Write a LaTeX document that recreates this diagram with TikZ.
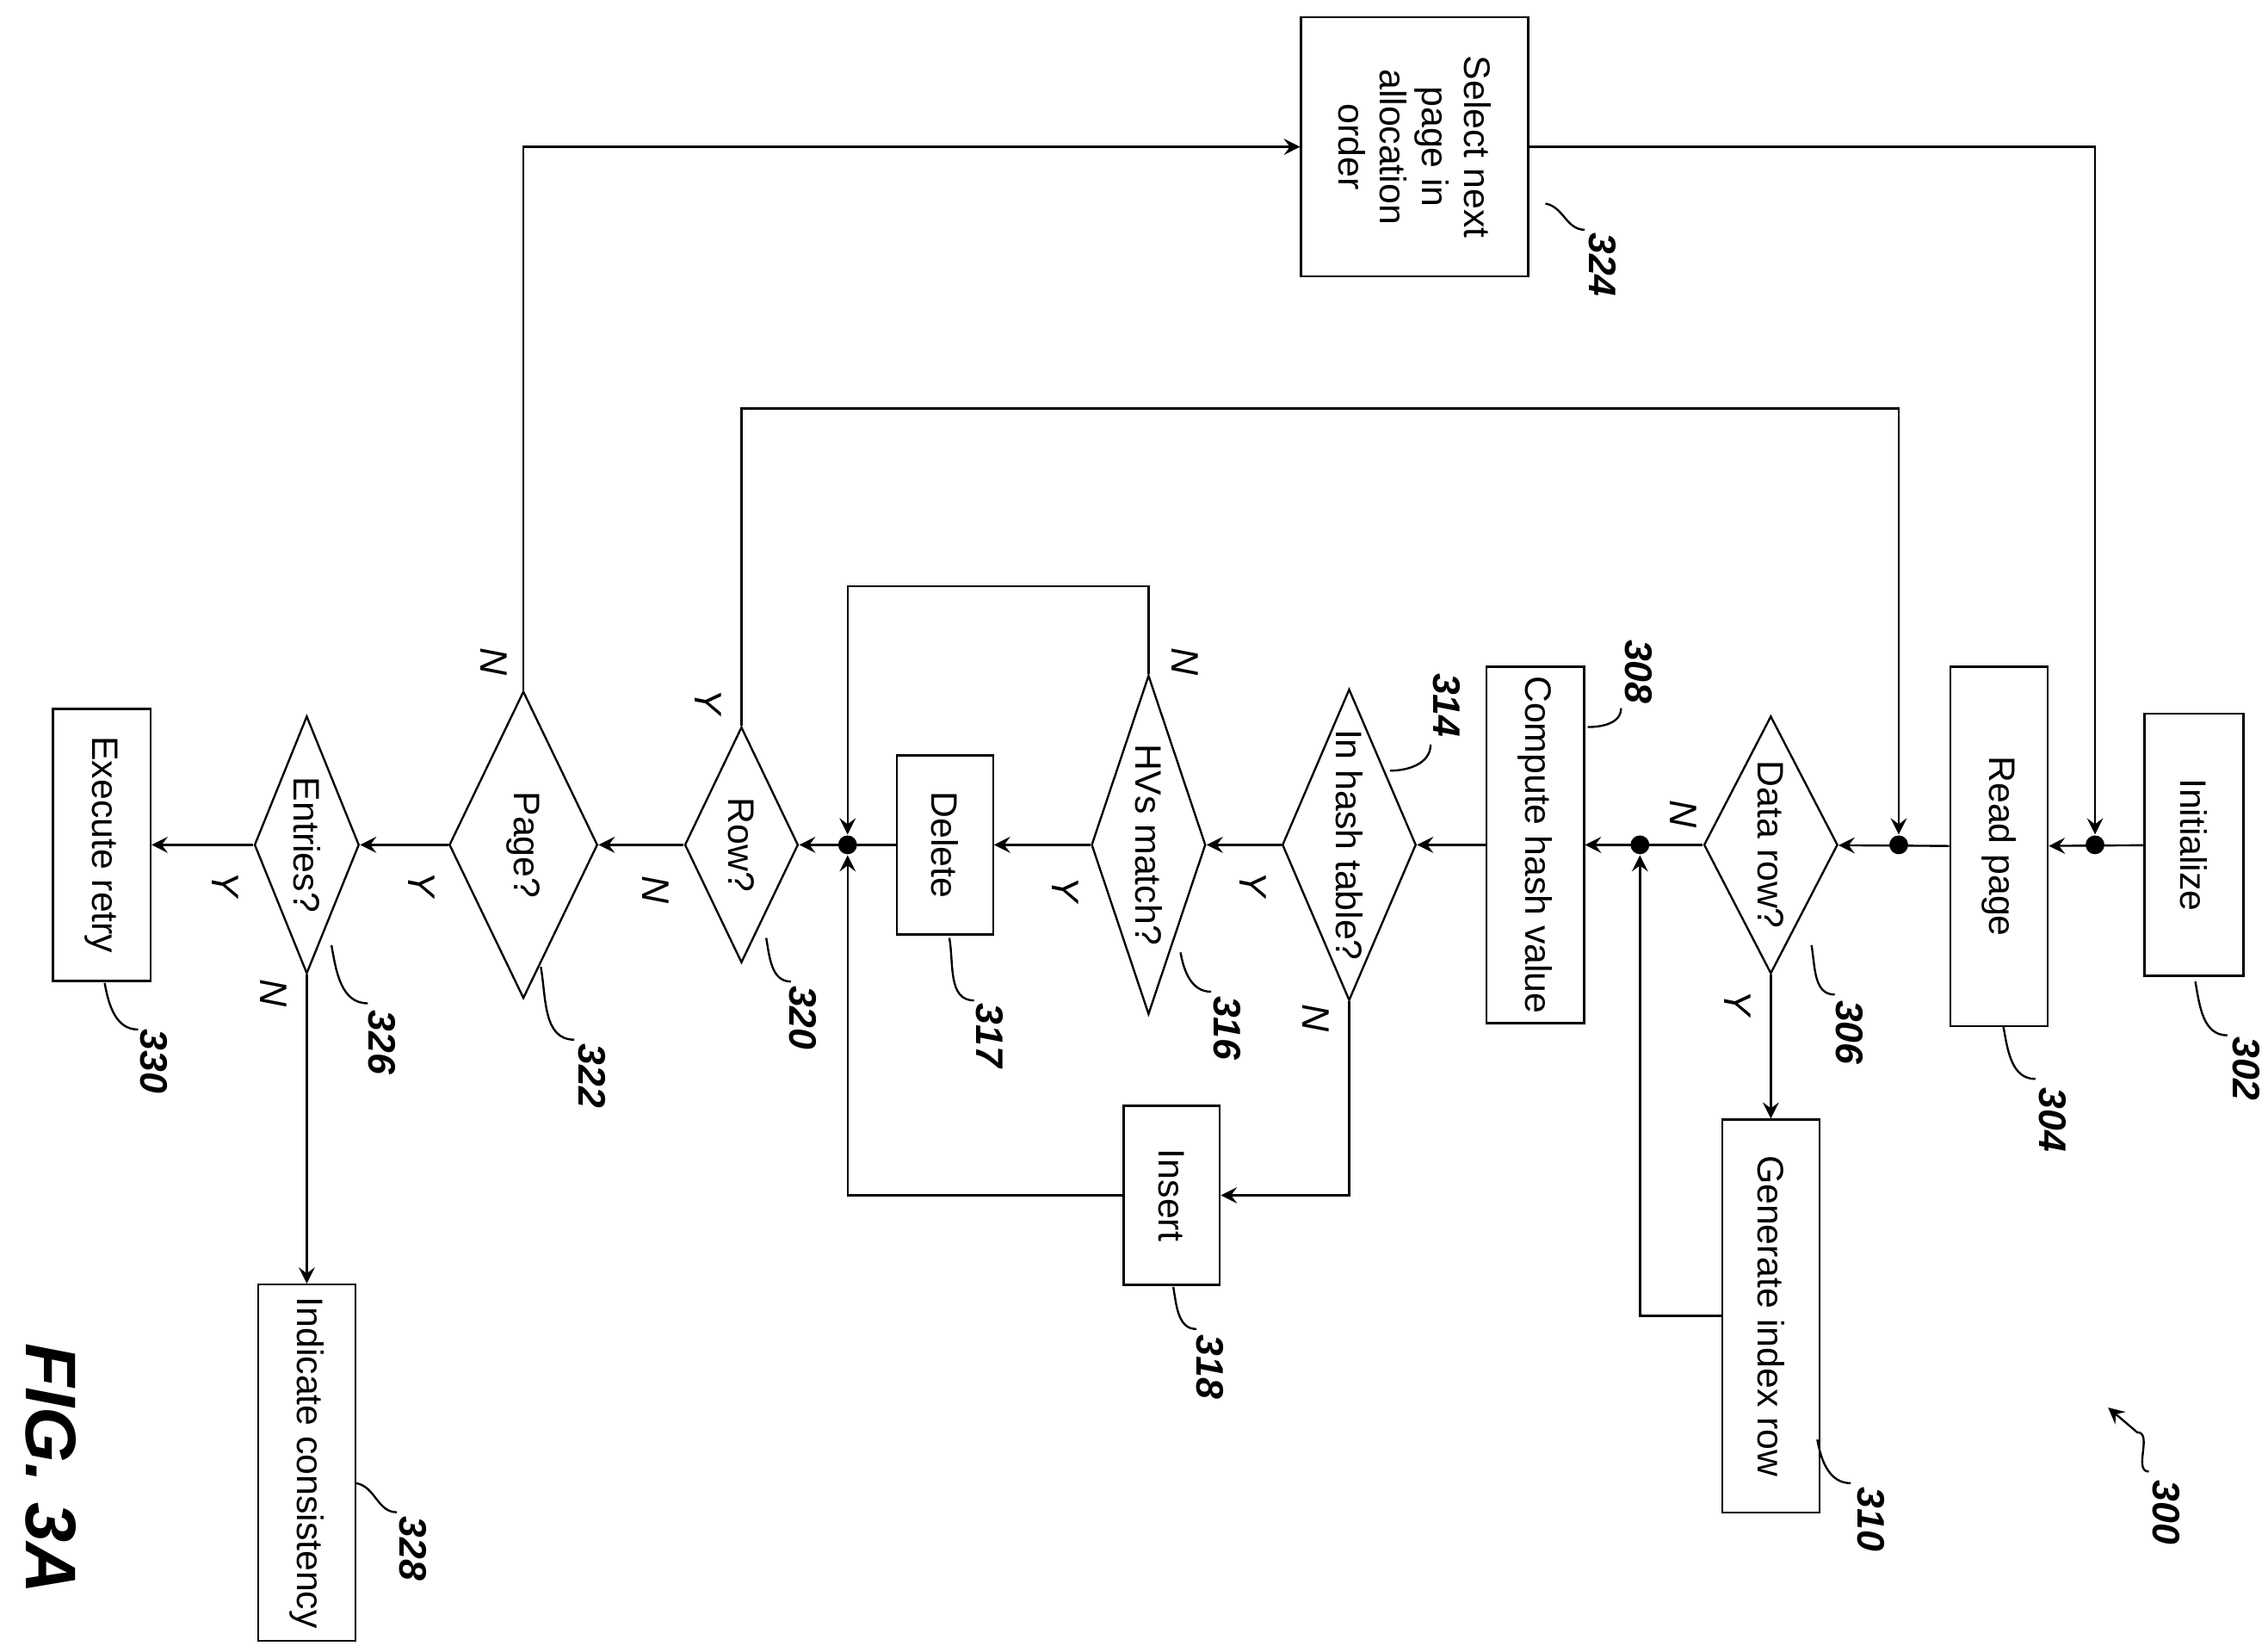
\documentclass[tikz,border=0pt]{standalone}
\usepackage{fontspec}
\setmainfont{Liberation Sans}
\usetikzlibrary{shapes,arrows,positioning}
\tikzstyle{block} = [rectangle, draw, rotate=-90, font=\fontsize{7.2}{8.2}\selectfont, align=center, inner sep=1pt]
\tikzstyle{decision} = [diamond, draw, rotate=-90, font=\fontsize{7.2}{8.2}\selectfont, inner sep=0pt, aspect=2.3]
\tikzstyle{junction} = [circle, fill, inner sep=1.3pt]
\tikzstyle{arrow} = [->,>=stealth]
\tikzstyle{yn} = [rotate=-90, font=\fontsize{7.5}{8.5}\selectfont\itshape]
\tikzstyle{refnum} = [rotate=-90, font=\fontsize{7.5}{8.5}\selectfont\bfseries\itshape]

\begin{document}
\begin{tikzpicture}[x=0.01cm, y=-0.01cm]
    \useasboundingbox (0,0) rectangle (1560,1136);
    % Boxes
    \node [block, minimum width=1.8cm, minimum height=0.68cm] (init) at (1509,581) {Initialize};
    \node [block, minimum width=2.47cm, minimum height=0.67cm] (read) at (1375,582) {Read page};
    \node [block, minimum width=1.78cm, minimum height=1.56cm] (select) at (973,101) {Select next\\page in\\allocation\\order};
    \node [block, minimum width=2.45cm, minimum height=0.67cm] (hash) at (1056,581) {Compute hash value};
    \node [block, minimum width=2.7cm, minimum height=0.67cm] (gen) at (1218,905) {Generate index row};
    \node [block, minimum width=1.23cm, minimum height=0.66cm] (delete) at (650,581) {Delete};
    \node [block, minimum width=1.23cm, minimum height=0.66cm] (insert) at (806,822) {Insert};
    \node [block, minimum width=1.87cm, minimum height=0.67cm] (retry) at (70,581) {Execute retry};
    \node [block, minimum width=2.45cm, minimum height=0.67cm] (consist) at (211,1006) {Indicate consistency};

    % Decisions
    \node [decision, minimum width=1.77cm, minimum height=0.92cm] (datarow) at (1218,581) {Data row?};
    \node [decision, minimum width=2.14cm, minimum height=0.92cm] (intable) at (928,581) {In hash table?};
    \node [decision, minimum width=2.33cm, minimum height=0.78cm] (hvmatch) at (790,581) {HVs match?};
    \node [decision, minimum width=1.62cm, minimum height=0.78cm] (row) at (510,581) {Row?};
    \node [decision, minimum width=2.11cm, minimum height=1.02cm] (page) at (360,581) {Page?};
    \node [decision, minimum width=1.77cm, minimum height=0.72cm] (entries) at (211,581) {Entries?};

    % Junctions
    \node [junction] (j1) at (1441,581) {};
    \node [junction] (j2) at (1306,581) {};
    \node [junction] (j3) at (1128,581) {};
    \node [junction] (j4) at (583,581) {};

    % Connections
    \draw [arrow] (init) -- (read);
    \draw [arrow] (select.north) -| (j1);
    \draw [arrow] (read) -- (datarow);
    \draw [arrow] (row.west) -- (510,281) -| (j2);
    \draw [arrow] (datarow) -- (hash);
    \draw [arrow] (datarow.east) -- (gen.west);
    \draw [arrow] (gen.south) -| (j3);
    \draw [arrow] (hash) -- (intable);
    \draw [arrow] (intable) -- (hvmatch);
    \draw [arrow] (intable.east) |- (insert.north);
    \draw [arrow] (hvmatch) -- (delete);
    \draw [arrow] (hvmatch.west) -- (790,403) -| (j4);
    \draw [arrow] (delete) -- (row);
    \draw [arrow] (insert.south) -| (j4);
    \draw [arrow] (row) -- (page);
    \draw [arrow] (page.west) |- (select.south);
    \draw [arrow] (page) -- (entries);
    \draw [arrow] (entries) -- (retry);
    \draw [arrow] (entries.east) -- (consist.west);

    % Branch labels
    \node [yn] at (1158,560) {N};
    \node [yn] at (1195,690) {Y};
    \node [yn] at (862,608) {Y};
    \node [yn] at (905,700) {N};
    \node [yn] at (733,612) {Y};
    \node [yn] at (815,455) {N};
    \node [yn] at (487,483) {Y};
    \node [yn] at (451,612) {N};
    \node [yn] at (340,455) {N};
    \node [yn] at (290,608) {Y};
    \node [yn] at (155,608) {Y};
    \node [yn] at (188,683) {N};

    % Reference numbers
    \draw (1510,675) to[out=-80,in=180] (1532,712);
    \node [refnum] at (1545,735) {302};
    \draw (1378,706) to[out=-80,in=180] (1400,742);
    \node [refnum] at (1412,770) {304};
    \draw (1246,650) to[out=-80,in=180] (1262,684);
    \node [refnum] at (1272,710) {306};
    \draw (1092,500) to[out=0,in=-90] (1115,487);
    \node [refnum] at (1127,462) {308};
    \draw (1250,990) to[out=-80,in=180] (1273,1020);
    \node [refnum] at (1287,1045) {310};
    \draw (956,530) to[out=0,in=-90] (984,512);
    \node [refnum] at (995,485) {314};
    \draw (812,655) to[out=-80,in=180] (833,682);
    \node [refnum] at (844,707) {316};
    \draw (653,645) to[out=-80,in=180] (670,688);
    \node [refnum] at (681,712) {317};
    \draw (807,885) to[out=-80,in=180] (823,914);
    \node [refnum] at (832,940) {318};
    \draw (527,645) to[out=-80,in=180] (544,675);
    \node [refnum] at (552,700) {320};
    \draw (372,665) to[out=-80,in=180] (395,715);
    \node [refnum] at (407,740) {322};
    \draw (1063,140) to[out=-10,in=180] (1090,158);
    \node [refnum] at (1102,182) {324};
    \draw (228,650) to[out=-80,in=180] (253,690);
    \node [refnum] at (263,717) {326};
    \draw (245,1020) to[out=-10,in=180] (273,1040);
    \node [refnum] at (284,1065) {328};
    \draw (72,676) to[out=-80,in=180] (95,708);
    \node [refnum] at (106,730) {330};
    \draw [arrow] (1478,1012) to[out=180,in=0] (1470,985) -- (1450,968);
    \node [refnum] at (1490,1040) {300};

    % Figure label
    \node [rotate=-90, font=\fontsize{14}{16}\selectfont\bfseries\itshape] (fig) at (35,1010) {FIG. 3A};
\end{tikzpicture}
\end{document}
